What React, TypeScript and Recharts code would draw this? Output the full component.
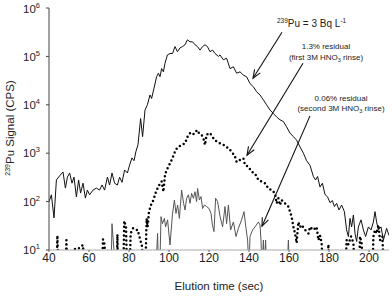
import React from "react";
import { LineChart, Line, XAxis, YAxis, ReferenceLine } from "recharts";

// 239Pu = 3 Bq/L elution profile
const mainTime = [
  40, 41.2, 42.5, 43.7, 45.3, 47, 48.2, 49.2, 50.3, 51.5, 52.5, 53.7, 54.8, 55.8, 57, 58.2, 59.2, 60.3,
  62, 63.7, 65.3, 66.5, 67.8, 69.2, 70.3, 71.5, 72.8, 74.2, 75.3, 76.5, 77.8, 79.2, 80.3, 81.5, 82.5,
  83.5, 84.5, 85.8, 86.8, 88, 89.2, 90.5, 91.3, 92.5, 93.8, 94.7, 95.5, 96.3, 97.2, 98, 99.2, 100.5,
  101.8, 103, 104.2, 105.5, 106.8, 108, 109.2, 110.5, 111.8, 113, 114.2, 115.5, 116.8, 118, 119.2,
  120.5, 121.8, 123, 124.7, 125.5, 127.2, 128.8, 130.5, 132.2, 133.8, 135.5, 137.2, 138.8, 140.5,
  142.2, 143.8, 145.5, 147.2, 148.8, 150.5, 152.2, 153.8, 155.5, 157.2, 158.8, 160.5, 162.2, 163.8,
  165.5, 167.2, 168.8, 170.5, 172.2, 173.3, 174.3, 175.5, 176.7, 178, 179.3, 180.5, 181.7, 182.7,
  183.8, 185, 186.3, 187.7, 188.8, 189.7, 190.5, 191.3, 192.2, 193, 193.8, 194.7, 196, 197.2, 198.3,
  199.7, 201, 202.2, 203, 203.8, 204.7, 206, 207.2, 208.8, 210,
];
const mainCps = [
  100, 138, 46, 280, 340, 410, 190, 320, 390, 240, 320, 125, 280, 150, 240, 118, 173, 138,
  173, 190, 173, 220, 173, 320, 220, 390, 240, 220, 320, 250, 450, 390, 570, 800, 700,
  1100, 1500, 5200, 2200, 7800, 10000, 16000, 13500, 22000, 38000, 45000, 38000, 56000, 48000, 72000, 107000, 115000,
  115000, 160000, 125000, 150000, 160000, 174000, 220000, 200000, 200000, 174000, 160000, 135000, 160000, 174000, 160000,
  125000, 135000, 115000, 100000, 107000, 85000, 92000, 56000, 61000, 45000, 48000, 41000, 38000, 27500,
  23500, 18600, 16000, 12600, 10000, 7800, 6600, 5600, 4900, 4500, 3500, 2600, 2200, 1860,
  1350, 1000, 700, 560, 330, 280, 330, 200, 240, 140, 125, 95, 105, 79,
  92, 67, 85, 62, 26, 19, 45, 30, 53, 22, 15, 30, 42, 26, 19,
  30, 26, 38, 62, 38, 26, 30, 16, 28, 20,
];

// 1.3% residual (first 3M HNO3 rinse), values < 10 fall below the axis
const rinse1Time = [
  40, 43.8, 44.2, 44.6, 48.3, 48.7, 49.1, 51.8, 52.5, 54.5, 55.8, 57, 57.5, 66.5, 67, 67.8, 68.2,
  73.9, 74.2, 74.5, 77.2, 77.6, 78.5, 79, 80.4, 80.8, 82, 83.2, 84.3, 85.5, 86.5, 87.2, 88.2, 88.8,
  89.3, 90, 91, 92.2, 93, 93.8, 94.7, 95.5, 96.3, 97.2, 98, 98.8, 99.7, 100.5, 101.7, 102.7, 103.3,
  104.7, 106.3, 108, 109.3, 110.5, 111.7, 113, 114, 115, 116.3, 117.5, 118, 118.8, 120.5, 122.2,
  123.8, 125.5, 127.2, 129.7, 131.3, 133, 133.8, 135.5, 137.2, 138, 139.7, 141.3, 143, 144.7, 146.3,
  148, 149.7, 151.3, 153, 153.8, 154.7, 155.5, 156.3, 158, 159.7, 160.5, 161.3, 162.2, 163, 163.8,
  164.7, 165.5, 166.3, 168, 169.7, 170.5, 172.2, 173.8, 174.7, 175.5, 176.3, 177, 179.3, 179.7, 180.2,
  188.3, 188.8, 189.7, 191, 192.2, 192.8, 195, 195.5, 196.3, 197, 201.8, 202.2, 203, 203.8, 204.7,
  205.5, 206.7, 207.3, 210,
];
const rinse1Cps = [
  4, 4, 20, 4, 4, 16, 4, 4, 10.5, 10.5, 11.7, 12.7, 4, 4, 16.6, 13, 4,
  4, 21, 4, 4, 40, 30, 4, 4, 22, 28, 26, 26, 17, 12, 4, 4, 45,
  30, 62, 85, 108, 138, 173, 200, 240, 260, 160, 355, 450, 525, 620, 780, 1000, 1170,
  1350, 1470, 1600, 2200, 2600, 2400, 2600, 3000, 2600, 2400, 1860, 1470, 2400, 2600, 2040,
  1740, 1600, 1500, 1260, 1080, 850, 660, 730, 780, 570, 525, 415, 380, 280, 260,
  240, 187, 173, 148, 92, 117, 85, 108, 92, 79, 62, 49, 30, 22, 14,
  38, 30, 33, 26, 22, 30, 26, 30, 16, 20, 14, 4, 4, 13, 4,
  4, 16, 13, 19, 14, 4, 4, 19, 14, 4, 4, 19, 26, 22, 33,
  16, 19, 4, 4,
];

// 0.06% residual (second 3M HNO3 rinse)
const rinse2Time = [
  40, 71, 71.5, 73, 93.3, 94.3, 94.8, 95.5, 96, 96.7, 97.7, 98.3, 99.3, 100.5, 101.7, 102.7, 103.5,
  104.3, 105.2, 106.3, 107.3, 108, 108.8, 109.7, 110.5, 111.3, 112.2, 113, 113.8, 114.3, 115.2, 116,
  116.8, 117.7, 118.8, 120, 121, 121.7, 122.5, 123.3, 124.3, 125.5, 126.8, 128, 128.8, 129.7, 130.8,
  132.2, 133.5, 134.7, 136.3, 137.5, 138.5, 139.3, 140, 140.5, 141.8, 143, 144.7, 145.5, 146, 146.5,
  147.2, 147.7, 148.3, 148.8, 159, 159.7, 160.2, 210,
];
const rinse2Cps = [
  3, 3, 35, 5, 3, 22, 3, 6, 49, 35, 45, 30, 42, 12.7, 53, 108, 57,
  85, 45, 173, 92, 67, 117, 138, 92, 148, 117, 160, 100, 187, 108, 127,
  72, 85, 79, 72, 57, 33, 24, 117, 100, 50, 30, 79, 35, 85, 26,
  38, 19, 28, 42, 62, 28, 16, 4, 19, 26, 30, 38, 33, 16, 4,
  16, 4, 16, 4, 4, 16, 4, 3,
];

const xTicks = [40, 60, 80, 100, 120, 140, 160, 180, 200];
const yTicks = [10, 100, 1000, 10000, 100000, 1000000];

const mainData = mainTime.map((t, i) => ({ t, v: mainCps[i] }));
const rinse1Data = rinse1Time.map((t, i) => ({ t, v: rinse1Cps[i] }));
const rinse2Data = rinse2Time.map((t, i) => ({ t, v: rinse2Cps[i] }));

const FONT = "Liberation Sans, Arial, Helvetica, sans-serif";

function PowTick({ x, y, payload }: any) {
  const exp = Math.round(Math.log10(payload.value));
  return (
    <text x={x} y={y} textAnchor="end" fontSize={11.5} fill="#222" dy="0.36em" fontFamily={FONT}>
      <tspan>10</tspan>
      <tspan dy={-5} fontSize={7.5}>{exp}</tspan>
    </text>
  );
}

function Arrow(props: any) {
  const { x1, y1, x2, y2 } = props;
  const ang = Math.atan2(y2 - y1, x2 - x1);
  const len = 9;
  const spread = 0.38;
  const ax = x2 - len * Math.cos(ang - spread);
  const ay = y2 - len * Math.sin(ang - spread);
  const bx = x2 - len * Math.cos(ang + spread);
  const by = y2 - len * Math.sin(ang + spread);
  return (
    <g stroke="#111" strokeWidth={1.1} fill="none">
      <line x1={x1} y1={y1} x2={x2} y2={y2} />
      <polyline points={`${ax},${ay} ${x2},${y2} ${bx},${by}`} />
    </g>
  );
}

export default function App() {
  return (
    <div style={{ position: "absolute", left: 0, top: 0, width: 392, height: 296, background: "#fff" }}>
      <LineChart width={392} height={296} margin={{ top: 8, right: 3, bottom: 0, left: 0 }}>
        <XAxis
          dataKey="t"
          type="number"
          domain={[40, 210]}
          ticks={xTicks}
          allowDataOverflow
          height={46}
          tickSize={2}
          tickMargin={1}
          tick={{ fill: "#222", fontSize: 12, fontFamily: FONT }}
          axisLine={{ stroke: "#aaa" }}
          tickLine={{ stroke: "#666" }}
        />
        <XAxis
          xAxisId="top"
          orientation="top"
          type="number"
          domain={[40, 210]}
          height={0}
          tick={false}
          tickLine={false}
          axisLine={{ stroke: "#777" }}
        />
        <YAxis
          scale="log"
          type="number"
          domain={[10, 1000000]}
          ticks={yTicks}
          allowDataOverflow
          width={49}
          tickSize={3}
          tickMargin={6}
          tick={<PowTick />}
          axisLine={{ stroke: "#444" }}
          tickLine={{ stroke: "#444" }}
        />
        <YAxis
          yAxisId="right"
          orientation="right"
          width={0}
          tick={false}
          tickLine={false}
          axisLine={{ stroke: "#777" }}
        />
        <Line
          data={rinse2Data}
          dataKey="v"
          type="linear"
          stroke="#555"
          strokeWidth={1}
          dot={false}
          activeDot={false}
          isAnimationActive={false}
        />
        <Line
          data={rinse1Data}
          dataKey="v"
          type="linear"
          stroke="#000"
          strokeWidth={2.5}
          strokeDasharray="0 4.3"
          strokeLinecap="round"
          dot={false}
          activeDot={false}
          isAnimationActive={false}
        />
        <Line
          data={mainData}
          dataKey="v"
          type="linear"
          stroke="#111"
          strokeWidth={1}
          dot={false}
          activeDot={false}
          isAnimationActive={false}
        />
        <ReferenceLine segment={[{ x: 156.5, y: 316000 }, { x: 142, y: 35500 }]} shape={Arrow} />
        <ReferenceLine segment={[{ x: 167, y: 72000 }, { x: 139, y: 910 }]} shape={Arrow} />
        <ReferenceLine segment={[{ x: 170.5, y: 5900 }, { x: 146.5, y: 31 }]} shape={Arrow} />
      </LineChart>
      <svg
        width={392}
        height={296}
        style={{ position: "absolute", left: 0, top: 0, pointerEvents: "none" }}
        fontFamily={FONT}
        fill="#222"
      >
        <text x={14} y={128} transform="rotate(-90 14 128)" textAnchor="middle" fontSize={11.5}>
          <tspan fontSize={7} dy={-4.5}>239</tspan>
          <tspan dy={4.5}>Pu Signal (CPS)</tspan>
        </text>
        <text x={219} y={290} textAnchor="middle" fontSize={11.5}>
          Elution time (sec)
        </text>
        <text x={277} y={27} fontSize={10}>
          <tspan fontSize={6.5} dy={-4}>239</tspan>
          <tspan dy={4}>Pu = 3 Bq L</tspan>
          <tspan fontSize={6.5} dy={-4}>-1</tspan>
        </text>
        <text x={326} y={49} textAnchor="middle" fontSize={8}>1.3% residual</text>
        <text x={326} y={60} textAnchor="middle" fontSize={8}>
          <tspan>(first 3M HNO</tspan>
          <tspan fontSize={5.5} dy={2}>3</tspan>
          <tspan dy={-2}> rinse)</tspan>
        </text>
        <text x={341} y={101} textAnchor="middle" fontSize={8}>0.06% residual</text>
        <text x={341} y={111} textAnchor="middle" fontSize={8}>
          <tspan>(second 3M HNO</tspan>
          <tspan fontSize={5.5} dy={2}>3</tspan>
          <tspan dy={-2}> rinse)</tspan>
        </text>
      </svg>
    </div>
  );
}
